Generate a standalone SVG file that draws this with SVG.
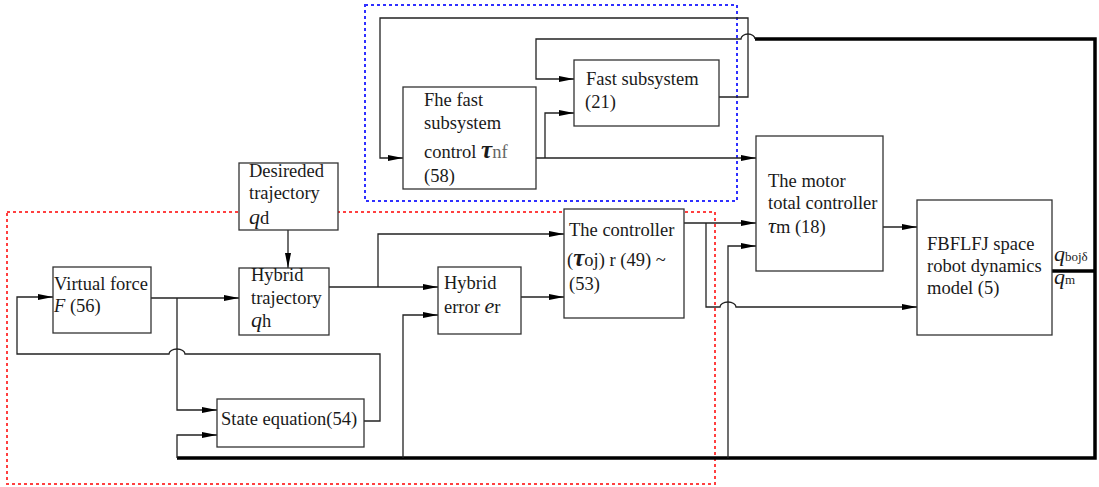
<svg xmlns="http://www.w3.org/2000/svg" width="1099" height="487" viewBox="0 0 1099 487">
<style>
.box{fill:#fff;stroke:#333;stroke-width:1.3}
.ln{fill:none;stroke:#222;stroke-width:1.3}
.arr{fill:none;stroke:#222;stroke-width:1.3;marker-end:url(#ah)}
.thick{fill:none;stroke:#000;stroke-width:3.5}
.t{font-family:"Liberation Serif","Times New Roman",serif;font-size:18.5px;fill:#1a1a1a}
.q{font-style:italic;font-size:22px}
.tau{font-style:italic;font-weight:bold;font-size:25px}
.sub{font-size:13px}
</style>
<defs>
<marker id="ah" viewBox="0 0 15 6" refX="15" refY="3" markerWidth="15" markerHeight="6" markerUnits="userSpaceOnUse" orient="auto"><path d="M0,0 L15,3 L0,6 z" fill="#000"/></marker>
</defs>
<rect width="1099" height="487" fill="#fff"/>
<g id="regions">
<rect x="365" y="5" width="372" height="196" fill="none" stroke="#3030ff" stroke-width="2" stroke-dasharray="3,3"/>
<rect x="7" y="212" width="708" height="272" fill="none" stroke="#ff4040" stroke-width="2" stroke-dasharray="3,3"/>
</g>
<g id="connectors">
<path class="arr" d="M719,97 H748 V18 H380 V158 H403"/>
<path class="thick" d="M1052,271 H1095"/>
<path class="thick" d="M755,39 H1095 V458 H177"/>
<path class="arr" d="M755,39 A7,5 0 0 0 741,39 H536 V79 H574"/>
<path class="arr" d="M536,158 H756"/>
<path class="arr" d="M545,158 V113 H574"/>
<path class="arr" d="M288,230 V268"/>
<path class="arr" d="M151,298 H239"/>
<path class="arr" d="M177,298 V410 H217"/>
<path class="arr" d="M364,421 H380 V354 H185 A8,5 0 0 0 169,354 H17 V297 H53"/>
<path class="arr" d="M177,458 V435 H217"/>
<path class="arr" d="M329,287 H438"/>
<path class="arr" d="M378,287 V234 H564"/>
<path class="arr" d="M403,458 V315 H438"/>
<path class="arr" d="M521,297 H564"/>
<path class="arr" d="M684,223 H756"/>
<path class="arr" d="M706,223 V307 H720 A8,5 0 0 1 736,307 H917"/>
<path class="arr" d="M728,458 V246 H756"/>
<path class="arr" d="M883,227 H917"/>
</g>
<g id="fast-subsystem">
<rect class="box" x="574" y="60" width="145" height="66"/>
<text class="t" x="586" y="85">Fast subsystem</text>
<text class="t" x="585" y="108">(21)</text>
</g>
<g id="fast-control">
<rect class="box" x="403" y="87" width="133" height="102"/>
<text class="t" x="424" y="106">Fhe fast</text>
<text class="t" x="424" y="129">subsystem</text>
<text class="t" x="424" y="158">control <tspan class="tau">τ</tspan><tspan fill="#666">nf</tspan></text>
<text class="t" x="424" y="182">(58)</text>
</g>
<g id="motor-controller">
<rect class="box" x="756" y="136" width="127" height="135"/>
<text class="t" x="768" y="187">The motor</text>
<text class="t" x="768" y="209">total controller</text>
<text class="t" x="768" y="233"><tspan class="q">τ</tspan>m (18)</text>
</g>
<g id="dynamics-model">
<rect class="box" x="917" y="200" width="135" height="135"/>
<text class="t" x="927" y="250">FBFLFJ space</text>
<text class="t" x="927" y="272">robot dynamics</text>
<text class="t" x="927" y="294">model (5)</text>
<text class="t" x="1054" y="261"><tspan class="q">q</tspan><tspan class="sub">bojδ</tspan></text>
<text class="t" x="1054" y="284"><tspan class="q">q</tspan><tspan class="sub">m</tspan></text>
</g>
<g id="desired-trajectory">
<rect class="box" x="239" y="163" width="99" height="67"/>
<text class="t" x="249" y="177">Desireded</text>
<text class="t" x="249" y="199">trajectory</text>
<text class="t" x="249" y="224"><tspan class="q">q</tspan>d</text>
</g>
<g id="virtual-force">
<rect class="box" x="53" y="267" width="98" height="66"/>
<text class="t" x="54" y="290">Virtual force</text>
<text class="t" x="54" y="312"><tspan font-style="italic">F</tspan> (56)</text>
</g>
<g id="hybrid-trajectory">
<rect class="box" x="239" y="268" width="90" height="67"/>
<text class="t" x="251" y="281">Hybrid</text>
<text class="t" x="251" y="304">trajectory</text>
<text class="t" x="251" y="327"><tspan class="q">q</tspan>h</text>
</g>
<g id="hybrid-error">
<rect class="box" x="438" y="267" width="83" height="67"/>
<text class="t" x="444" y="289">Hybrid</text>
<text class="t" x="444" y="313">error  <tspan class="q">e</tspan>r</text>
</g>
<g id="controller">
<rect class="box" x="564" y="209" width="120" height="109"/>
<text class="t" x="569" y="236">The controller</text>
<text class="t" x="567" y="266">(<tspan class="tau">τ</tspan>oj) r (49) ~</text>
<text class="t" x="569" y="290">(53)</text>
</g>
<g id="state-equation">
<rect class="box" x="217" y="399" width="147" height="48"/>
<text class="t" x="221" y="425">State equation(54)</text>
</g>
</svg>
